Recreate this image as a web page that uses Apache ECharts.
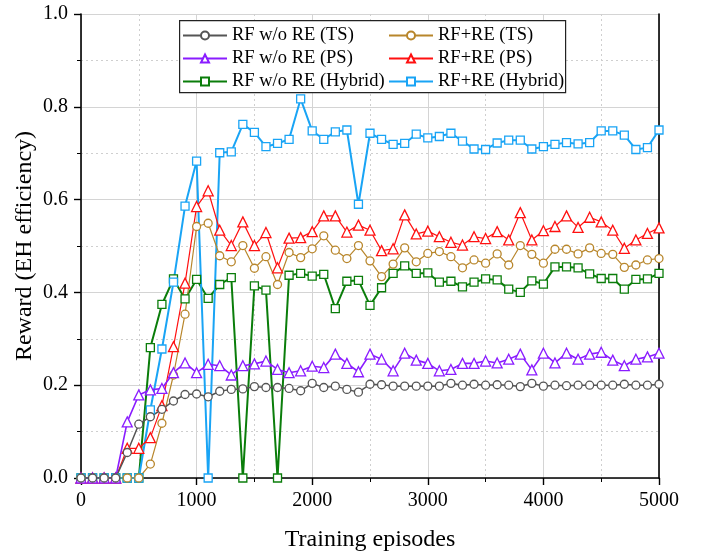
<!DOCTYPE html>
<html>
<head>
<meta charset="utf-8">
<script src="https://cdn.jsdelivr.net/npm/echarts@6/dist/echarts.min.js"></script>
<style>
html,body{margin:0;padding:0;background:#fff;}
#chart{width:707px;height:552px;}
</style>
</head>
<body>
<div id="chart"></div>
<script>
const episodes = [0,100,200,300,400,500,600,700,800,900,1000,1100,1200,1300,1400,1500,1600,1700,1800,1900,2000,2100,2200,2300,2400,2500,2600,2700,2800,2900,3000,3100,3200,3300,3400,3500,3600,3700,3800,3900,4000,4100,4200,4300,4400,4500,4600,4700,4800,4900,5000];

const tsNoRE = [0,0,0,0,0.055,0.116,0.132,0.148,0.166,0.180,0.181,0.175,0.187,0.191,0.192,0.197,0.195,0.195,0.193,0.188,0.204,0.195,0.198,0.191,0.185,0.202,0.201,0.198,0.198,0.198,0.198,0.198,0.204,0.200,0.202,0.200,0.201,0.200,0.197,0.204,0.198,0.200,0.199,0.200,0.200,0.200,0.200,0.202,0.200,0.200,0.202];
const tsRE = [0,0,0,0,0,0,0.030,0.118,0.222,0.353,0.542,0.549,0.479,0.466,0.501,0.452,0.477,0.417,0.486,0.475,0.494,0.522,0.491,0.473,0.501,0.468,0.434,0.461,0.496,0.466,0.484,0.488,0.477,0.453,0.470,0.463,0.483,0.459,0.501,0.482,0.463,0.493,0.493,0.483,0.496,0.484,0.482,0.454,0.459,0.470,0.473];
const psNoRE = [0,0,0,0,0.121,0.179,0.190,0.193,0.227,0.248,0.227,0.245,0.242,0.222,0.242,0.246,0.252,0.234,0.227,0.231,0.241,0.238,0.267,0.247,0.229,0.267,0.256,0.231,0.269,0.254,0.247,0.231,0.234,0.247,0.247,0.252,0.248,0.256,0.267,0.233,0.269,0.248,0.269,0.256,0.267,0.271,0.254,0.242,0.256,0.261,0.269];
const psRE = [0,0,0,0,0.064,0.064,0.087,0.156,0.283,0.420,0.585,0.619,0.534,0.501,0.552,0.501,0.529,0.453,0.517,0.518,0.531,0.565,0.565,0.530,0.545,0.534,0.490,0.494,0.567,0.526,0.532,0.520,0.508,0.502,0.520,0.516,0.531,0.513,0.572,0.513,0.533,0.542,0.565,0.540,0.562,0.552,0.534,0.495,0.513,0.527,0.539];
const hyNoRE = [0,0,0,0,0,0,0.281,0.374,0.429,0.386,0.428,0.387,0.417,0.432,0,0.414,0.405,0,0.437,0.441,0.435,0.439,0.365,0.424,0.426,0.372,0.410,0.441,0.457,0.441,0.442,0.422,0.424,0.412,0.422,0.429,0.427,0.407,0.400,0.425,0.418,0.455,0.455,0.453,0.440,0.430,0.430,0.407,0.428,0.429,0.441];
const hyRE = [0,0,0,0,0,0,0.147,0.278,0.422,0.586,0.683,0,0.701,0.703,0.762,0.745,0.714,0.721,0.730,0.817,0.748,0.730,0.746,0.750,0.590,0.743,0.730,0.719,0.721,0.741,0.733,0.736,0.743,0.726,0.709,0.708,0.722,0.728,0.728,0.709,0.714,0.719,0.723,0.720,0.723,0.748,0.748,0.739,0.708,0.712,0.750];

const names = ['RF w/o RE (TS)','RF+RE (TS)','RF w/o RE (PS)','RF+RE (PS)','RF w/o RE (Hybrid)','RF+RE (Hybrid)'];
const FONT = '"Liberation Serif","DejaVu Serif",serif';

function mk(name, vals, color, symbol, size, lw){
  return {
    name: name, type: 'line', data: episodes.map((e,i)=>[e, vals[i]]),
    symbol: symbol, symbolSize: size, showAllSymbol: true,
    color: color,
    lineStyle: {color: color, width: lw},
    itemStyle: {color: '#fff', borderColor: color, borderWidth: 1.3},
    z: 3
  };
}

const series = [
  mk(names[4], hyNoRE, '#0a7d0a', 'rect', 8, 2),
  mk(names[5], hyRE, '#19a4f5', 'rect', 8, 2),
  mk(names[1], tsRE, '#b8862b', 'circle', 8, 1.2),
  mk(names[3], psRE, '#ff1010', 'triangle', 10, 1.2),
  mk(names[2], psNoRE, '#8a1cff', 'triangle', 10, 1.6),
  mk(names[0], tsNoRE, '#555555', 'circle', 8, 1.5)
];

const legendText = {fontFamily: FONT, fontSize: 18.5, color: '#000'};
const chart = echarts.init(document.getElementById('chart'), null, {renderer:'canvas'});
chart.setOption({
  animation: false,
  backgroundColor: '#fff',
  textStyle: {fontFamily: FONT},
  grid: {left: 81, right: 48, top: 14, bottom: 74, containLabel: false, outerBoundsMode: 'none'},
  legend: [
    {data: [names[0], names[2], names[4]], orient: 'vertical', left: 182, top: 26, padding: 0, itemWidth: 44, itemHeight: 10, itemGap: 4,
     textStyle: legendText, z: 10},
    {data: [names[1], names[3], names[5]], orient: 'vertical', left: 388, top: 26, padding: 0, itemWidth: 44, itemHeight: 10, itemGap: 4,
     textStyle: legendText, z: 10}
  ],
  graphic: [
    {type: 'rect', left: 179, top: 20, z: 5, shape: {width: 386, height: 72}, style: {fill: '#fff', stroke: '#222', lineWidth: 1.2}}
  ],
  xAxis: {
    type: 'value', min: 0, max: 5000, interval: 1000,
    name: 'Training episodes', nameLocation: 'middle', nameGap: 50, nameMoveOverlap: false,
    nameTextStyle: {fontFamily: FONT, fontSize: 24, color: '#000'},
    axisLine: {lineStyle: {color: '#000', width: 1.6}},
    axisTick: {length: 7, lineStyle: {color: '#000', width: 1.4}},
    minorTick: {show: true, splitNumber: 2, length: 4, lineStyle: {color: '#000', width: 1}},
    axisLabel: {fontFamily: FONT, fontSize: 20, color: '#000', margin: 13, formatter: v => String(v)},
    splitLine: {show: true, lineStyle: {color: '#d4d4d4', width: 1}},
    minorSplitLine: {show: true, lineStyle: {color: '#cfcfcf', type: [2,3], width: 1}}
  },
  yAxis: [{
    type: 'value', min: 0, max: 1, interval: 0.2,
    name: 'Reward (EH efficiency)', nameLocation: 'middle', nameGap: 44, nameMoveOverlap: false,
    nameTextStyle: {fontFamily: FONT, fontSize: 24, color: '#000'},
    axisLine: {show: true, lineStyle: {color: '#000', width: 1.6}},
    axisTick: {show: true, length: 7, lineStyle: {color: '#000', width: 1.4}},
    minorTick: {show: true, splitNumber: 2, length: 4, lineStyle: {color: '#000', width: 1}},
    axisLabel: {fontFamily: FONT, fontSize: 20, color: '#000', margin: 13, formatter: v => v.toFixed(1)},
    splitLine: {show: true, lineStyle: {color: '#d4d4d4', width: 1}},
    minorSplitLine: {show: true, lineStyle: {color: '#cfcfcf', type: [2,3], width: 1}}
  }, {
    type: 'value', min: 0, max: 1, interval: 0.2, position: 'right',
    axisLine: {show: true, lineStyle: {color: '#000', width: 1.6}},
    axisTick: {show: false}, axisLabel: {show: false}, splitLine: {show: false}
  }],
  series: series
});
</script>
</body>
</html>
